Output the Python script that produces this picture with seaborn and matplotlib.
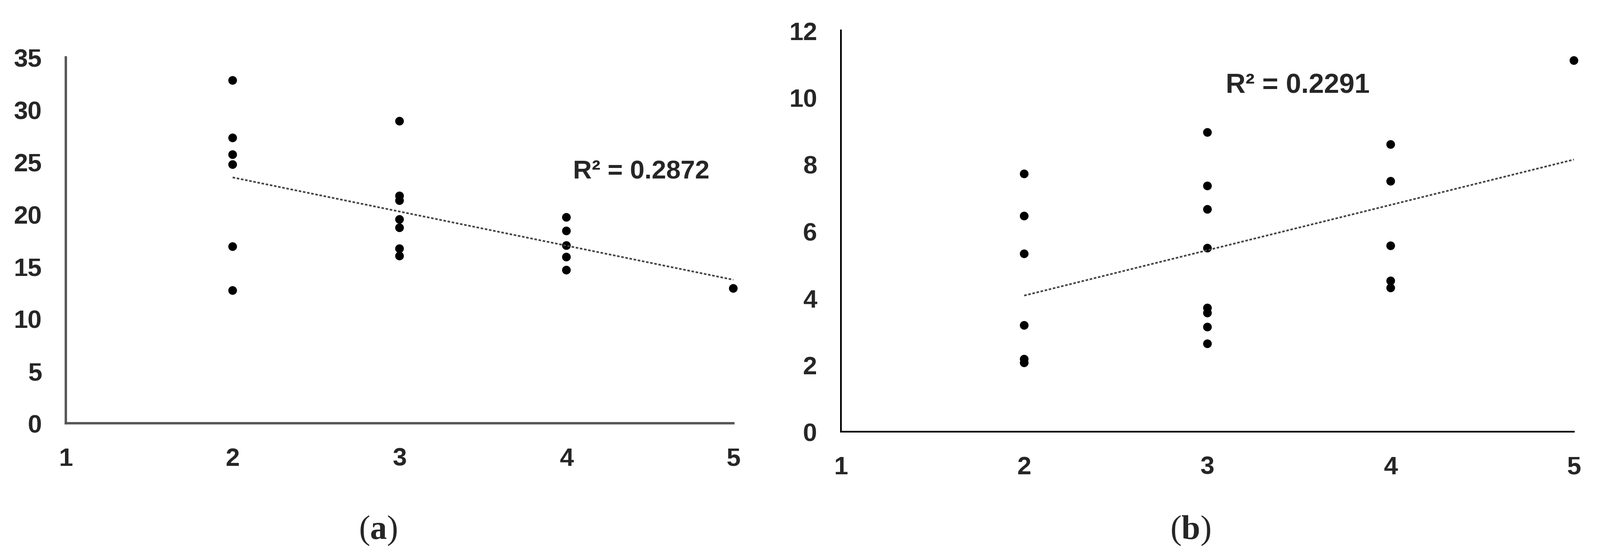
import matplotlib
matplotlib.use("Agg")
import matplotlib.pyplot as plt
import seaborn as sns
import pandas as pd

# panel (a)
a_x = [2, 2, 2, 2, 2, 2,
       3, 3, 3, 3, 3, 3, 3,
       4, 4, 4, 4, 4,
       5]
a_y = [32.8, 27.3, 25.7, 24.75, 16.9, 12.7,
       28.9, 21.75, 21.3, 19.5, 18.7, 16.7, 16.0,
       19.7, 18.4, 17.0, 15.9, 14.65,
       12.9]
a_r2 = "R² = 0.2872"

# panel (b)
b_x = [2, 2, 2, 2, 2, 2,
       3, 3, 3, 3, 3, 3, 3, 3,
       4, 4, 4, 4, 4,
       5]
b_y = [7.71, 6.45, 5.32, 3.18, 2.17, 2.06,
       8.95, 7.35, 6.65, 5.49, 3.70, 3.55, 3.13, 2.63,
       8.59, 7.49, 5.56, 4.51, 4.30,
       11.1]
b_r2 = "R² = 0.2291"

x_ticks = [1, 2, 3, 4, 5]

sns.set_style("white")
plt.rcParams['font.family'] = ['Liberation Sans', 'DejaVu Sans']
plt.rcParams['mathtext.fontset'] = 'custom'
plt.rcParams['mathtext.bf'] = 'Liberation Serif:bold'
plt.rcParams['mathtext.rm'] = 'Liberation Serif'

fig = plt.figure(figsize=(15.8, 5.504), dpi=240)
ax_a = fig.add_axes([0.0411, 0.2400, 0.4172, 0.6563])
ax_b = fig.add_axes([0.5256, 0.2248, 0.4581, 0.7199])


def draw_panel(ax, x, y, ymax, ystep, r2, r2_pos, r2_size, spine_color, spine_w):
    df = pd.DataFrame({'x': x, 'y': y})
    sns.regplot(data=df, x='x', y='y', ax=ax, ci=None,
                scatter_kws=dict(s=38, color='black', edgecolor='none', alpha=1),
                line_kws=dict(color='#444444', linestyle=(0, (1.5, 1)), linewidth=1.2))
    ax.set_xlim(1, 5)
    ax.set_ylim(0, ymax)
    ax.set_xticks(x_ticks)
    ax.set_yticks(range(0, ymax + 1, ystep))
    ax.set_xlabel('')
    ax.set_ylabel('')
    for side in ['top', 'right']:
        ax.spines[side].set_visible(False)
    for side in ['left', 'bottom']:
        ax.spines[side].set_color(spine_color)
        ax.spines[side].set_linewidth(spine_w)
    ax.tick_params(axis='both', length=0, labelsize=18)
    ax.tick_params(axis='x', pad=17)
    ax.tick_params(axis='y', pad=17)
    for lbl in ax.get_xticklabels() + ax.get_yticklabels():
        lbl.set_fontweight('bold')
    for c in ax.collections:
        c.set_clip_on(False)
    ax.text(r2_pos[0], r2_pos[1], r2, fontsize=r2_size, fontweight='bold',
            ha='left', va='center')


draw_panel(ax_a, a_x, a_y, 35, 5, a_r2, (4.04, 24.1), 18.5, '#555555', 1.7)
draw_panel(ax_b, b_x, b_y, 12, 2, b_r2, (3.10, 10.35), 19.5, 'black', 1.2)

fig.text(0.2363, 0.0477, r'($\mathbf{a}$)', fontsize=24,
         family='Liberation Serif', ha='center', va='center')
fig.text(0.7439, 0.0477, r'($\mathbf{b}$)', fontsize=24,
         family='Liberation Serif', ha='center', va='center')

fig.savefig('out.png', dpi=240, facecolor='white')
